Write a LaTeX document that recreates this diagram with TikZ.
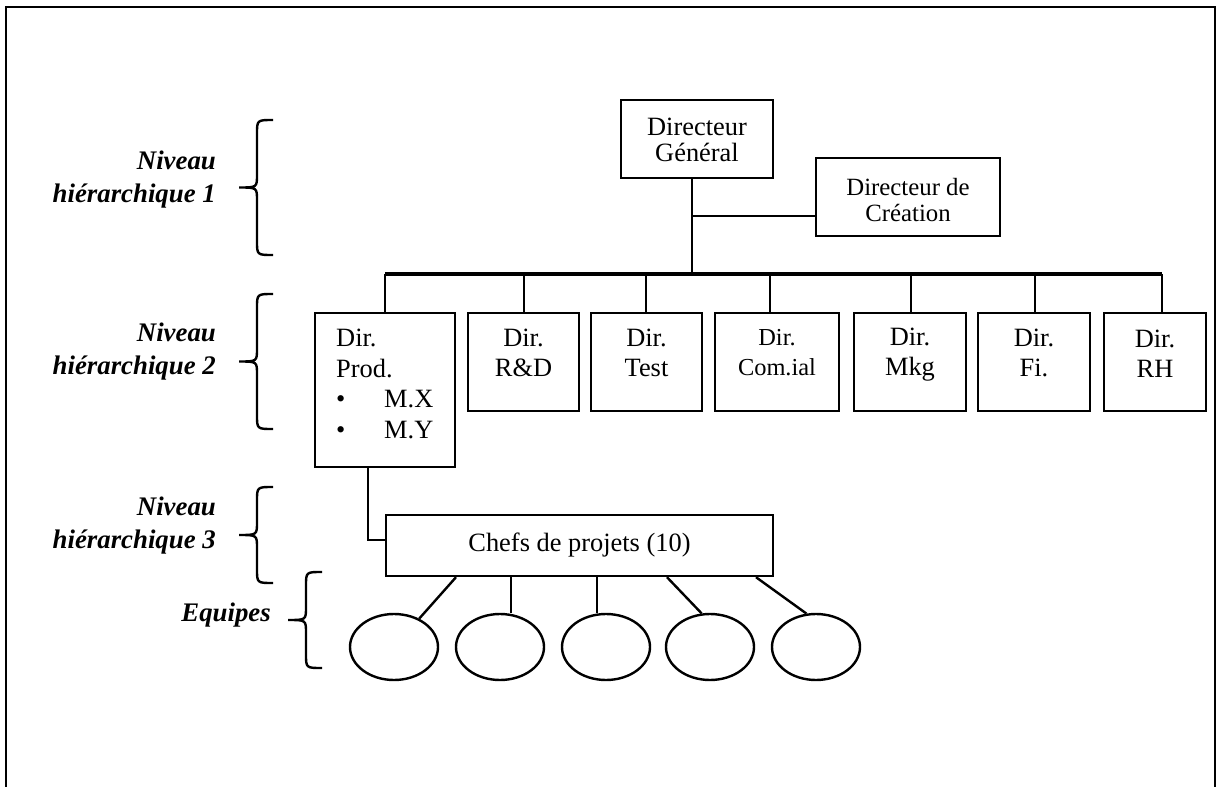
\documentclass[tikz,border=0pt]{standalone}
\usepackage{fontspec}
\setmainfont{Liberation Serif}
\usetikzlibrary{shapes.geometric}
\newcommand\levelbrace[3]{%
  \draw ({#1},{#2}) .. controls ({#1-16},{#2}) .. ({#1-16},{#2+14})
    -- ({#1-16},{(#2+#3)/2-13}) .. controls ({#1-16},{(#2+#3)/2}) .. ({#1-34},{(#2+#3)/2})
    .. controls ({#1-16},{(#2+#3)/2}) .. ({#1-16},{(#2+#3)/2+13})
    -- ({#1-16},{#3-14}) .. controls ({#1-16},{#3}) .. ({#1},{#3});}
\begin{document}
\begin{tikzpicture}[x=0.5pt,y=-0.5pt,line width=1.2pt,
  box/.style 2 args={draw,rectangle,inner sep=0pt,minimum width=#1,minimum height=#2},
  team/.style={draw,ellipse,inner sep=0pt,minimum width=44pt,minimum height=33pt},
  txt/.style={inner sep=0pt,align=center,font=\fontsize{13.2}{15}\selectfont},
  lvl/.style={inner sep=0pt,anchor=east,align=right,font=\fontsize{13.4}{16.5}\selectfont\bfseries\itshape}]
\useasboundingbox (0,0) rectangle (1217,787);
% frame
\draw (6,787) -- (6,7) -- (1215,7) -- (1215,787);

% level 1
\node[box={76pt}{39pt}] (dg) at (697,139) {};
\node[txt,font=\fontsize{13.2}{13}\selectfont] (dgt) at (697,140) {Directeur\\Général};
\node[box={92pt}{39pt}] (cre) at (908,197) {};
\node[txt,font=\fontsize{12.4}{13}\selectfont] (cret) at (908,200) {Directeur de\\Création};

\coordinate (j0) at (692,274);
\coordinate (j1) at (692,216);
\draw (j0 |- dg.south) -- (j0);
\draw (j1) -- (j1 -| cre.west);

% level 2 boxes
\node[box={70pt}{77pt}] (prod) at (385,390) {};
\node[inner sep=0pt,anchor=west,align=left,font=\fontsize{13.2}{15.2}\selectfont] (prodt) at (335,384)
  {Dir.\\Prod.\\\makebox[24pt][l]{\textbullet}M.X\\\makebox[24pt][l]{\textbullet}M.Y};
\node[box={55.5pt}{49pt}] (rd) at (523.5,362) {};
\node[txt] (rdt) at (523.5,353) {Dir.\\R\&D};
\node[box={55.5pt}{49pt}] (test) at (646.5,362) {};
\node[txt] (testt) at (646.5,353) {Dir.\\Test};
\node[box={62pt}{49pt}] (com) at (777,362) {};
\node[txt,font=\fontsize{12.2}{15}\selectfont] (comt) at (777,353) {Dir.\\Com.ial};
\node[box={56pt}{49pt}] (mkg) at (910,362) {};
\node[txt] (mkgt) at (910,355) {Dir.\\Mkg};
\node[box={56pt}{49pt}] (fi) at (1034,362) {};
\node[txt] (fit) at (1034,353) {Dir.\\Fi.};
\node[box={51pt}{49pt}] (rh) at (1155,362) {};
\node[txt] (rht) at (1155,354) {Dir.\\RH};

% bus
\coordinate (t1) at (385,274);
\coordinate (t2) at (524,274);
\coordinate (t3) at (646,274);
\coordinate (t4) at (770,274);
\coordinate (t5) at (911,274);
\coordinate (t6) at (1035,274);
\coordinate (t7) at (1162,274);
\draw[line width=2pt] (t1) -- (t7);
\draw (t1) -- (t1 |- prod.north);
\draw (t2) -- (t2 |- rd.north);
\draw (t3) -- (t3 |- test.north);
\draw (t4) -- (t4 |- com.north);
\draw (t5) -- (t5 |- mkg.north);
\draw (t6) -- (t6 |- fi.north);
\draw (t7) -- (t7 |- rh.north);

% level 3
\node[box={193.5pt}{30.5pt}] (chefs) at (579.5,545.5) {};
\node[txt] (chefst) at (579.5,545) {Chefs de projets (10)};
\coordinate (pc) at (368,540);
\draw (pc |- prod.south) -- (pc) -- (pc -| chefs.west);

% teams
\node[team] (e1) at (394,647) {};
\node[team] (e2) at (500,647) {};
\node[team] (e3) at (606,647) {};
\node[team] (e4) at (710,647) {};
\node[team] (e5) at (816,647) {};
\coordinate (s1) at (456,576);
\coordinate (s2) at (511,576);
\coordinate (s3) at (597,576);
\coordinate (s4) at (667,576);
\coordinate (s5) at (756,576);
\draw (s1 |- chefs.south) -- (e1);
\draw (s2 |- chefs.south) -- (s2 |- e2.north);
\draw (s3 |- chefs.south) -- (s3 |- e3.north);
\draw (s4 |- chefs.south) -- (e4.104);
\draw (s5 |- chefs.south) -- (e5.106);

% braces and labels
\levelbrace{273}{120}{255}
\levelbrace{273}{294}{429}
\levelbrace{273}{487}{583}
\levelbrace{322}{572}{668}
\node[lvl] (l1) at (217,180) {Niveau\\hiérarchique 1};
\node[lvl] (l2) at (217,351.5) {Niveau\\hiérarchique 2};
\node[lvl] (l3) at (217,525.5) {Niveau\\hiérarchique 3};
\node[lvl] (l4) at (272,615) {Equipes};
\end{tikzpicture}
\end{document}
